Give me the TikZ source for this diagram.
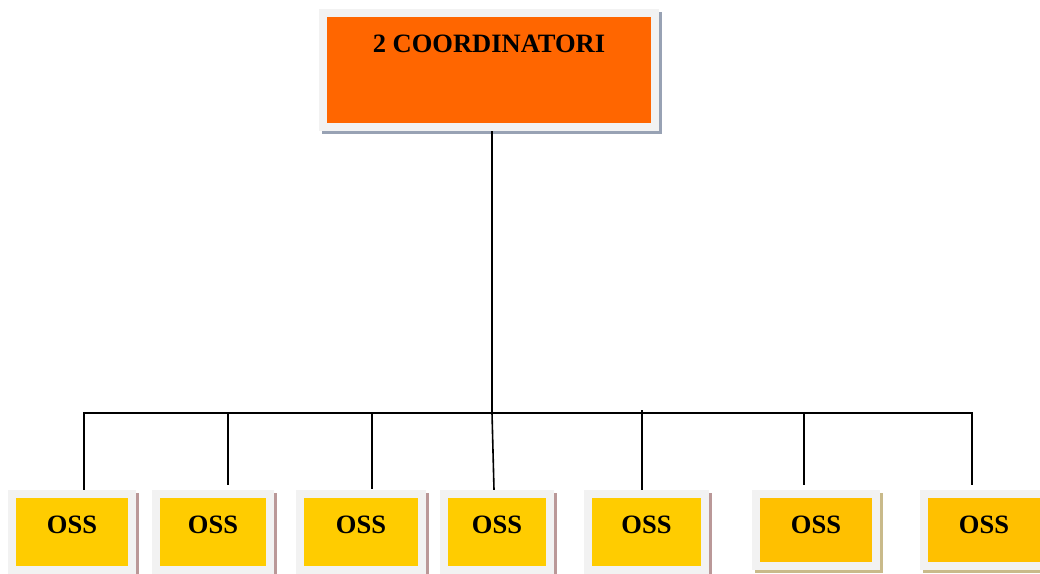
\documentclass[tikz,border=0pt]{standalone}
\usepackage{fontspec}
\setmainfont{Liberation Serif}
\usepackage{tikz}
\usetikzlibrary{backgrounds}
\definecolor{coordorange}{HTML}{FF6600}
\definecolor{ossyellow}{HTML}{FFCC00}
\definecolor{ossgold}{HTML}{FFC000}
\definecolor{framegrey}{HTML}{F2F2F2}
\definecolor{shadowblue}{RGB}{152,162,180}
\definecolor{shadowpink}{RGB}{186,152,152}
\definecolor{shadowtan}{RGB}{201,186,138}
\newcommand{\framew}{8pt}
\newcommand{\boxshadow}[2]{\fill[#2] ([shift={(-1pt,-7pt)}]#1.south west) rectangle ([shift={(7pt,1pt)}]#1.north east);}

\begin{document}
\begin{tikzpicture}[x=1pt,y=-1pt]
                %\draw[help lines] (0,0) grid (1040,573);
                \tikzset{box/.style = {draw=framegrey, line width=\framew, inner sep=0pt, outer sep=0pt,
                                       font=\fontsize{26.5}{30}\selectfont\bfseries}}
                \tikzset{ossbox/.style = {box, fill=ossyellow, text height=39pt, text depth=37pt}}
                \tikzset{wire/.style = {line width=1.6pt, black}}
                \useasboundingbox (0,0) rectangle (1040,573);
                \node[box, fill=coordorange, minimum width=332pt, text height=39pt, text depth=75pt] (coord) at (489,70) {2 COORDINATORI};
                \foreach \n/\cx/\w in {1/72/120, 2/213/114, 3/361/122, 4/497/106, 5/646.5/117}
                        \node[ossbox, minimum width=\w pt] (oss\n) at (\cx,532) {OSS};
                \foreach \n/\cx in {6/816, 7/984}
                        \node[ossbox, fill=ossgold, text depth=32.5pt, minimum width=120pt] (oss\n) at (\cx,529.75) {OSS};
                \begin{scope}[on background layer]
                        \boxshadow{coord}{shadowblue}
                        \foreach \n in {1,...,5} {\boxshadow{oss\n}{shadowpink}}
                        \foreach \n in {6,7} {\boxshadow{oss\n}{shadowtan}}
                        \coordinate (hub) at (492,413);
                        \foreach \n/\xa/\ya/\xb/\yb in {1/84/413/84/490, 2/228/413/228/485, 3/372/413/372/489, 4/492/413/494/490,
                                                        5/642/410/642/490, 6/804/413/804/485, 7/972/413/972/485} {
                                \coordinate (bus\n) at (\xa,\ya);
                                \coordinate (drop\n) at (\xb,\yb);
                        }
                        \draw[wire] (coord.south -| hub) -- (hub);
                        \draw[wire] (drop1) -- (bus1) -- (bus7) -- (drop7);
                        \foreach \n in {2,...,6} {\draw[wire] (bus\n) -- (drop\n);}
                \end{scope}
\end{tikzpicture}
\end{document}
